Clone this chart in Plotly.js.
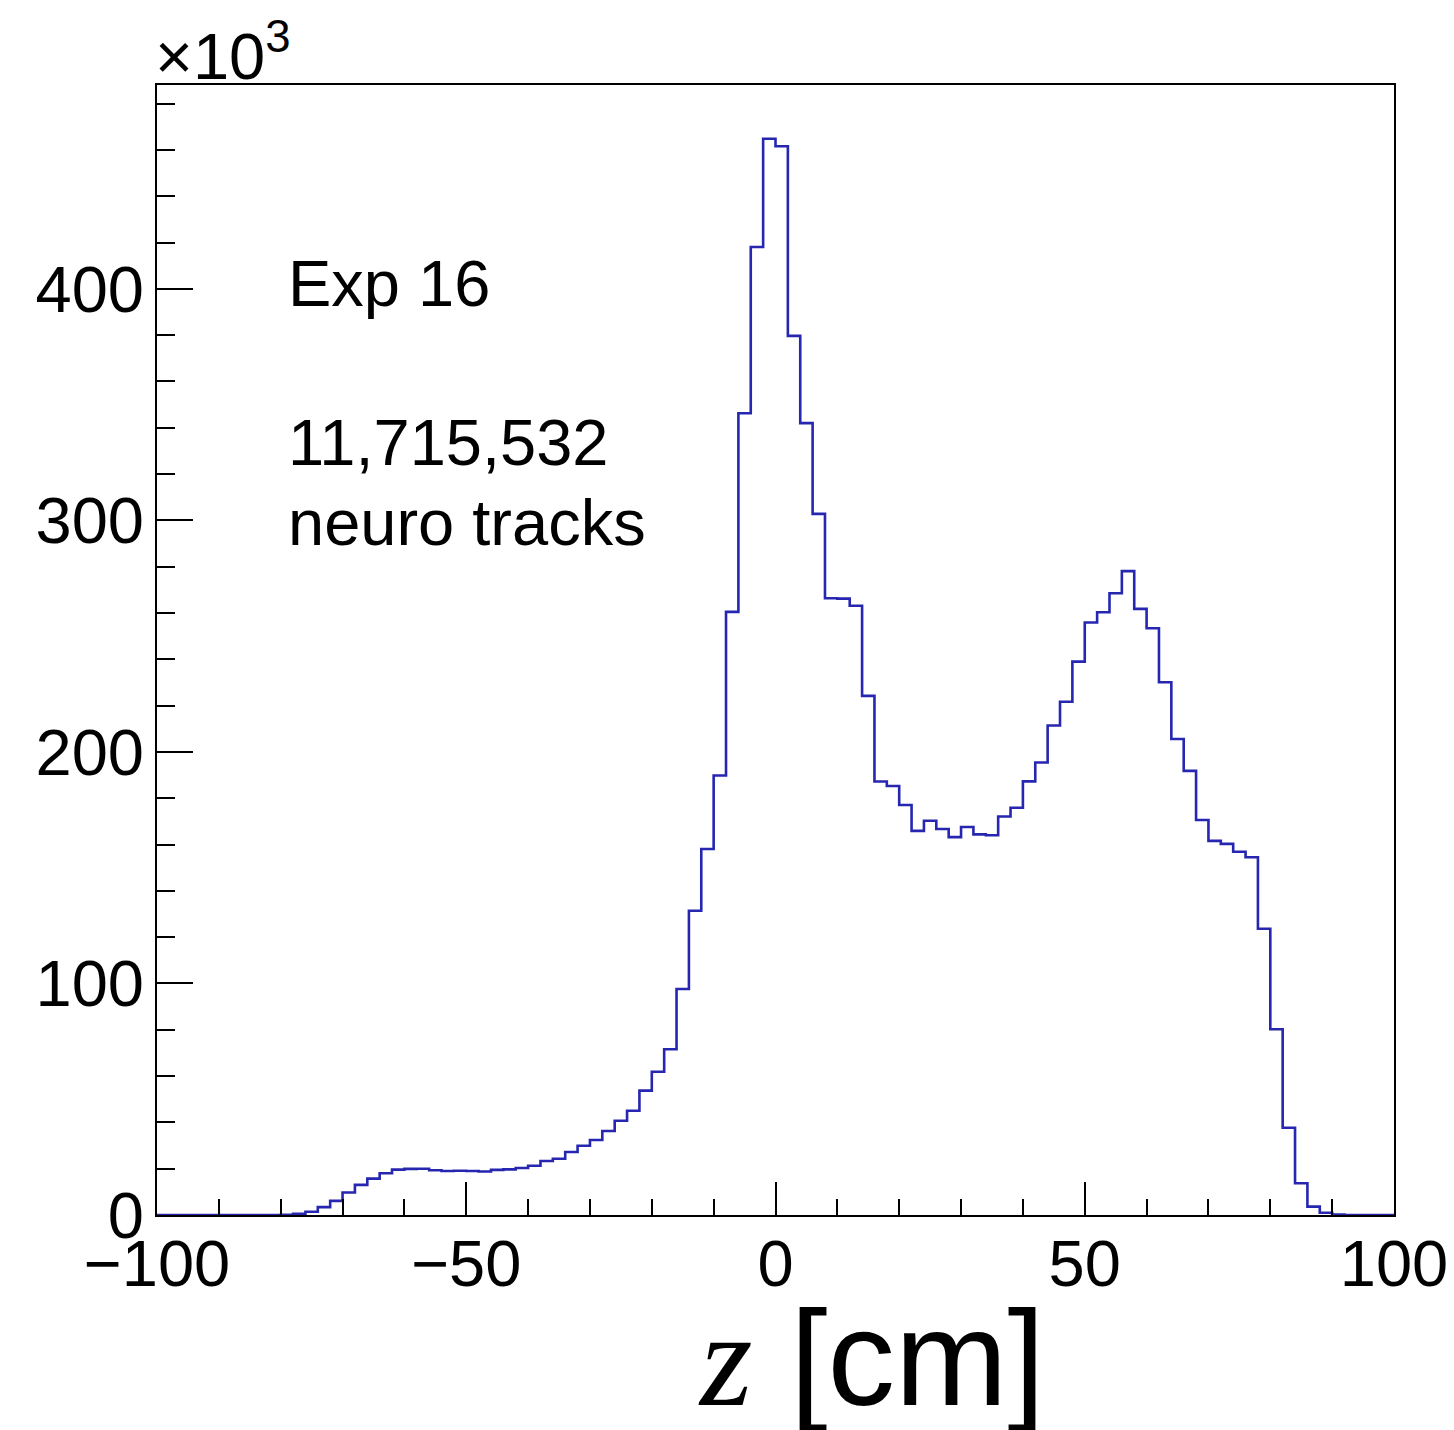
<!DOCTYPE html>
<html>
<head>
<meta charset="utf-8">
<script src="https://cdn.plot.ly/plotly-3.0.1.min.js"></script>
<style>html,body{margin:0;padding:0;background:#fff;}</style>
</head>
<body>
<div id="chart" style="width:1454px;height:1430px;"></div>
<script>
// Histogram binning (z in cm)
const binStart = -100;
const binWidth = 2;
// Entries per bin, in thousands (x10^3), 100 bins from -100 to 100 cm
const counts = [
  0, 0, 0, 0, 0, 0, 0, 0, 0, 0,
  0.1, 0.5, 1.4, 3.4, 6.1, 9.7, 13.0, 15.7, 18.0, 19.6,
  19.9, 20.0, 19.3, 19.0, 19.1, 19.0, 18.8, 19.5, 19.7, 20.3,
  21.3, 23.3, 24.3, 27.2, 29.9, 32.4, 36.3, 40.7, 45.0, 53.7,
  61.9, 71.6, 97.6, 131.4, 158.1, 189.8, 260.5, 346.3, 418.1, 464.8,
  461.6, 379.7, 342.0, 302.8, 266.4, 266.2, 263.1, 224.2, 187.2, 185.3,
  177.1, 165.9, 170.3, 166.7, 163.2, 167.6, 164.4, 164.0, 172.1, 175.9,
  187.3, 195.4, 211.4, 221.7, 239.0, 255.9, 260.3, 268.5, 278.1, 261.8,
  253.4, 230.1, 205.6, 191.8, 170.6, 161.6, 160.3, 156.9, 154.5, 123.6,
  80.2, 37.7, 13.7, 3.6, 1.0, 0.2, 0, 0, 0, 0
];
const labelExp = "Exp 16";
const labelCount = "11,715,532";
const labelTracks = "neuro tracks";
const xTitle = '<i><span style="font-family:Liberation Serif">z</span></i> [cm]';
const yScale = "×10<sup>3</sup>";

// Build step outline from bin edges
const edges = [];
const stepY = [];
for (let i = 0; i <= counts.length; i++) {
  edges.push(binStart + i * binWidth);
  stepY.push(i < counts.length ? counts[i] : counts[counts.length - 1]);
}

const font = "Liberation Sans, Arial, Helvetica, sans-serif";
const ymax = 1.05 * Math.max(...counts);

const trace = {
  type: "scatter",
  mode: "lines",
  x: edges,
  y: stepY,
  line: {shape: "hv", color: "#2626b0", width: 2.6},
  hoverinfo: "skip",
  showlegend: false
};

const layout = {
  width: 1454,
  height: 1430,
  margin: {l: 157, r: 60, t: 85, b: 215},
  paper_bgcolor: "#ffffff",
  plot_bgcolor: "#ffffff",
  font: {family: font, color: "#000"},
  xaxis: {
    range: [-100, 100],
    dtick: 50,
    tick0: -100,
    ticks: "inside",
    ticklen: 33,
    tickwidth: 2,
    tickcolor: "#000",
    minor: {dtick: 10, ticks: "inside", ticklen: 16, tickwidth: 2, tickcolor: "#000"},
    showline: true,
    linewidth: 2,
    linecolor: "#000",
    mirror: true,
    showgrid: false,
    zeroline: false,
    tickfont: {family: font, size: 65, color: "#000"},
    ticklabelstandoff: -9
  },
  yaxis: {
    range: [0, ymax],
    dtick: 100,
    ticks: "inside",
    ticklen: 36,
    tickwidth: 2,
    tickcolor: "#000",
    minor: {dtick: 20, ticks: "inside", ticklen: 18, tickwidth: 2, tickcolor: "#000"},
    showline: true,
    linewidth: 2,
    linecolor: "#000",
    mirror: true,
    showgrid: false,
    zeroline: false,
    tickfont: {family: font, size: 65, color: "#000"},
    ticklabelstandoff: -2
  },
  annotations: [
    {xref: "paper", yref: "paper", x: 0.104, y: 0.8239, xanchor: "left", yanchor: "middle",
     text: labelExp, showarrow: false, font: {family: font, size: 65, color: "#000"}},
    {xref: "paper", yref: "paper", x: 0.104, y: 0.6836, xanchor: "left", yanchor: "middle",
     text: labelCount, showarrow: false, font: {family: font, size: 65, color: "#000"}},
    {xref: "paper", yref: "paper", x: 0.104, y: 0.6128, xanchor: "left", yanchor: "middle",
     text: labelTracks, showarrow: false, font: {family: font, size: 65, color: "#000"}},
    {xref: "paper", yref: "paper", x: -0.003, y: 0.991, xanchor: "left", yanchor: "bottom",
     text: yScale, showarrow: false, font: {family: font, size: 65, color: "#000"}},
    {xref: "paper", yref: "paper", x: 0.578, y: -0.127, xanchor: "center", yanchor: "middle",
     text: xTitle, showarrow: false, font: {family: font, size: 135, color: "#000"}}
  ]
};

Plotly.newPlot("chart", [trace], layout, {staticPlot: true, displayModeBar: false});
</script>
</body>
</html>
